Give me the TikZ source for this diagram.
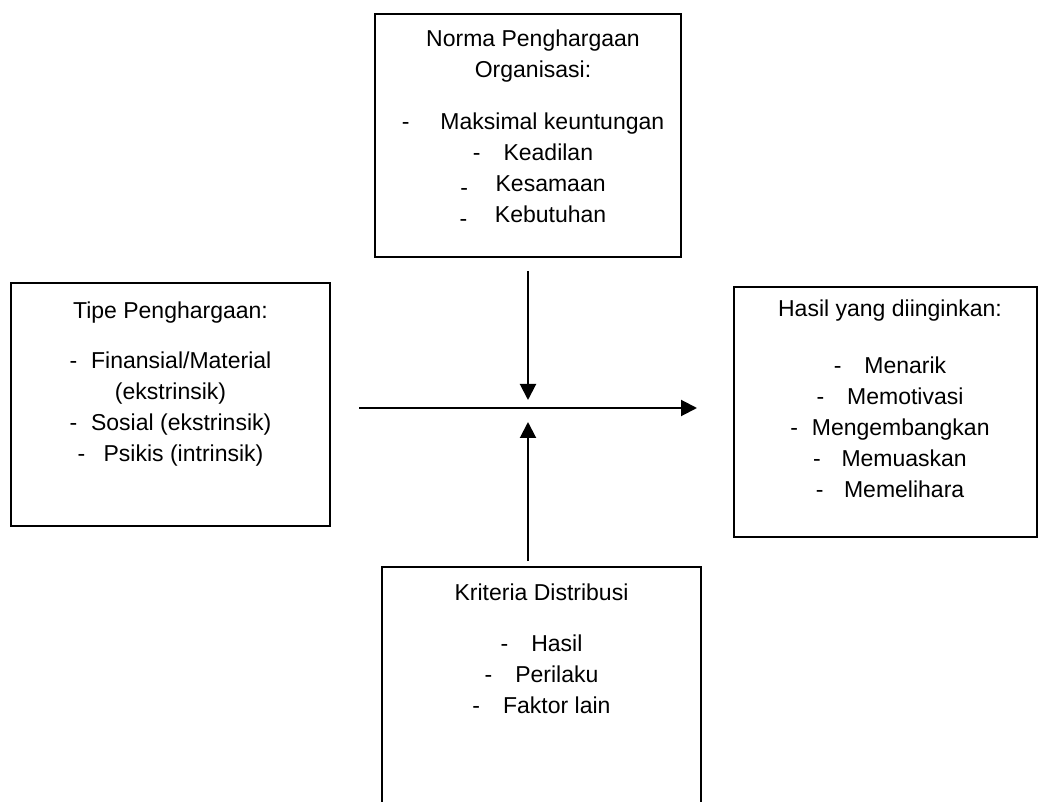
\documentclass[tikz,border=0pt]{standalone}
\usepackage{fontspec}
\setmainfont{Liberation Sans}
\usepackage{tikz}
\usetikzlibrary{positioning}
\usetikzlibrary{arrows.meta}

\begin{document}
\begin{tikzpicture}[x=1pt,y=-1pt,
		box/.style={draw, line width=2pt, inner sep=0pt},
		txt/.style={align=center, inner sep=0pt, font=\fontsize{23}{31}\selectfont},
		arr/.style={line width=2pt, -{Triangle[length=16pt,width=16pt]}}]
		\useasboundingbox (0,0) rectangle (1045,802);
		\clip (0,0) rectangle (1045,802);
		\node[box, minimum width=306pt, minimum height=243pt] (norma) at (528,135.5) {};
		\node[box, minimum width=319pt, minimum height=243pt] (tipe) at (170.5,404.5) {};
		\node[box, minimum width=303pt, minimum height=250pt] (hasil) at (885.5,412) {};
		\node[box, minimum width=319pt, minimum height=263pt] (kriteria) at (541.5,698.5) {};
		\coordinate (hub) at (528,408);
		\node[txt, below = 17pt of norma.north, xshift=5pt] (normatxt) {Norma Penghargaan\\Organisasi:\\[21pt]
		-\hspace{1.35em}Maksimal keuntungan\\ -\hspace{1em}Keadilan\\
		\raisebox{-4pt}{-}\hspace{1.2em}Kesamaan\\ \raisebox{-4pt}{-}\hspace{1.2em}Kebutuhan};
		\node[txt, below = 20pt of tipe.north] (tipetxt) {Tipe Penghargaan:\\[19pt]
		-\hspace{0.6em}Finansial/Material\\ (ekstrinsik)\\ -\hspace{0.6em}Sosial (ekstrinsik)\\
		-\hspace{0.8em}Psikis (intrinsik)};
		\node[txt, below = 14pt of hasil.north, xshift=4.5pt] (hasiltxt) {Hasil yang diinginkan:\\[26pt]
		-\hspace{1em}Menarik\\ -\hspace{1em}Memotivasi\\ -\hspace{0.6em}Mengembangkan\\
		-\hspace{0.9em}Memuaskan\\ -\hspace{0.9em}Memelihara};
		\node[txt, below = 18pt of kriteria.north] (kriteriatxt) {Kriteria Distribusi\\[20pt]
		-\hspace{1em}Hasil\\ -\hspace{1em}Perilaku\\ -\hspace{1em}Faktor lain};
		\draw[arr, shorten <=13pt, shorten >=8pt] (norma.south) -- (hub);
		\draw[arr, shorten <=28pt, shorten >=36pt] (tipe.east |- hub) -- (hasil.west |- hub);
		\draw[arr, shorten <=5pt, shorten >=14pt] (kriteria.north -| hub) -- (hub);
	\end{tikzpicture}
\end{document}
